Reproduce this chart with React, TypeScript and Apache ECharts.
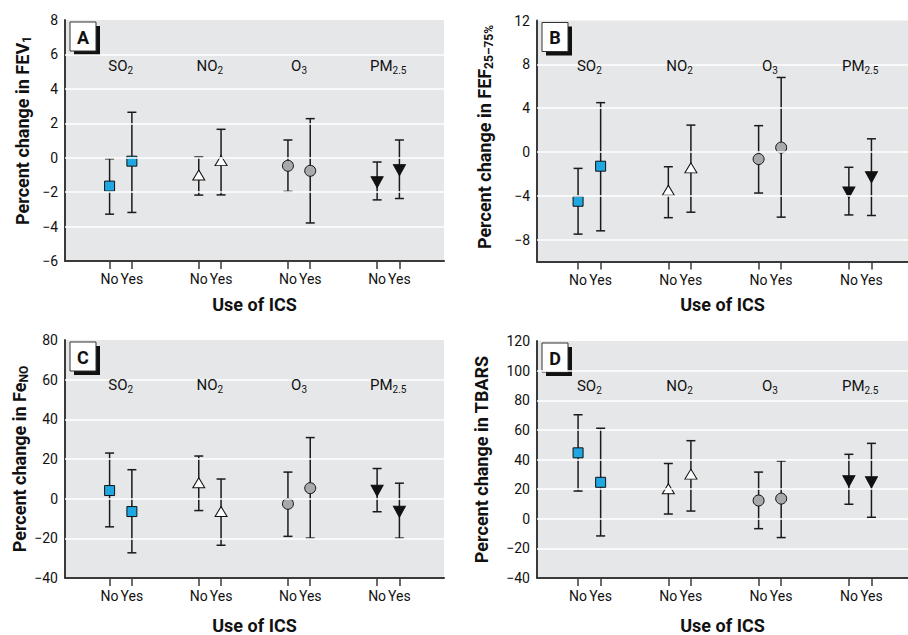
import React, { useEffect, useRef } from "react";
import * as echarts from "echarts";

// ---------- data ----------
const icsUse = ["No", "Yes"];
const pollutantLabels = ["SO{s|2}", "NO{s|2}", "O{s|3}", "PM{s|2.5}"];

// order: SO2 No, SO2 Yes, NO2 No, NO2 Yes, O3 No, O3 Yes, PM2.5 No, PM2.5 Yes
const fev1Est = [-1.65, -0.2, -1.0, -0.17, -0.47, -0.76, -1.42, -0.72];
const fev1Low = [-3.28, -3.18, -2.17, -2.16, -1.96, -3.79, -2.45, -2.37];
const fev1High = [-0.06, 2.64, 0.04, 1.65, 1.03, 2.27, -0.25, 1.03];
const fev1Ticks = [-6, -4, -2, 0, 2, 4, 6, 8];

const fefEst = [-4.5, -1.3, -3.5, -1.45, -0.65, 0.4, -3.7, -2.3];
const fefLow = [-7.5, -7.2, -6.0, -5.5, -3.75, -5.95, -5.75, -5.8];
const fefHigh = [-1.5, 4.5, -1.35, 2.45, 2.4, 6.8, -1.4, 1.2];
const fefTicks = [-8, -4, 0, 4, 8, 12];

const fenoEst = [4.1, -6.5, 8.0, -6.5, -2.6, 5.3, 4.0, -6.6];
const fenoLow = [-14.2, -27.3, -6.0, -23.5, -19.0, -19.9, -6.6, -19.9];
const fenoHigh = [23.0, 14.6, 21.5, 9.9, 13.4, 30.8, 15.2, 7.8];
const fenoTicks = [-40, -20, 0, 20, 40, 60, 80];

const tbarsEst = [44.5, 24.6, 20.2, 30.1, 12.3, 13.6, 25.3, 24.6];
const tbarsLow = [18.7, -11.6, 3.2, 5.2, -6.7, -12.7, 9.8, 1.0];
const tbarsHigh = [70.2, 61.1, 37.3, 52.7, 31.5, 39.0, 43.5, 50.9];
const tbarsTicks = [-40, -20, 0, 20, 40, 60, 80, 100, 120];

// ---------- styles ----------
const FONT = "Roboto, 'Liberation Sans', sans-serif";
const TXT = "#111111";
const markerStyles = [
  { symbol: "rect", size: [10, 10], color: "#1ea7e1", rotate: 0 },
  { symbol: "triangle", size: [12, 10], color: "#ffffff", rotate: 0 },
  { symbol: "circle", size: 11, color: "#a7a9ac", rotate: 0 },
  { symbol: "triangle", size: [12, 11], color: "#111111", rotate: 180 },
];

const panels = [
  {
    tag: "A", yName: "Percent change in FEV{s|1}", est: fev1Est, low: fev1Low, high: fev1High,
    ticks: fev1Ticks, ymin: -6, ymax: 8, xmin: 0, xmax: 17,
    grid: { left: 65, top: 20, width: 379, height: 241 }, nameGap: 32, xNameGap: 34, namePad: [0, 0, 0, 20],
  },
  {
    tag: "B", yName: "Percent change in FEF{s|25–75%}", est: fefEst, low: fefLow, high: fefHigh,
    ticks: fefTicks, ymin: -10, ymax: 12, xmin: 0.18, xmax: 16.62,
    grid: { left: 537, top: 20.5, width: 371, height: 241 }, nameGap: 42, xNameGap: 34, namePad: [0, 0, 0, 8],
  },
  {
    tag: "C", yName: "Percent change in Fe{s|NO}", est: fenoEst, low: fenoLow, high: fenoHigh,
    ticks: fenoTicks, ymin: -40, ymax: 80, xmin: 0, xmax: 17,
    grid: { left: 65, top: 340, width: 379, height: 241.5 }, nameGap: 32, xNameGap: 38, namePad: [0, 0, 0, 0],
  },
  {
    tag: "D", yName: "Percent change in TBARS", est: tbarsEst, low: tbarsLow, high: tbarsHigh,
    ticks: tbarsTicks, ymin: -40, ymax: 120, xmin: 0.18, xmax: 16.62,
    grid: { left: 537, top: 341, width: 371, height: 241.5 }, nameGap: 45, xNameGap: 38, namePad: [0, 0, 0, 0],
  },
];

const xPos = (k: number) => 4 * Math.floor(k / 2) + 2 + (k % 2);
const tickPositions = pollutantLabels.flatMap((_, g) => icsUse.map((__, i) => 4 * g + 2 + i));

function buildOption() {
  const grids: any[] = [];
  const xAxes: any[] = [];
  const yAxes: any[] = [];
  const series: any[] = [];
  const graphics: any[] = [];

  panels.forEach((p, pi) => {
    grids.push({
      ...p.grid,
      show: true,
      backgroundColor: "#e6e7e8",
      borderWidth: 0,
      containLabel: false,
    });
    xAxes.push({
      gridIndex: pi,
      type: "value",
      min: p.xmin,
      max: p.xmax,
      splitLine: { show: false },
      axisLine: { show: true, onZero: false, lineStyle: { color: "#3a3a3a", width: 2 } },
      axisTick: {
        show: true,
        customValues: tickPositions,
        length: 8,
        lineStyle: { color: "#3a3a3a", width: 1.5 },
      },
      axisLabel: {
        customValues: tickPositions,
        formatter: (v: number) => icsUse[(Math.round(v) - 2) % 4],
        fontFamily: FONT,
        fontSize: 14,
        color: TXT,
        margin: 11,
      },
      name: "Use of ICS",
      nameLocation: "middle",
      nameGap: p.xNameGap,
      nameTextStyle: { fontFamily: FONT, fontSize: 18, fontWeight: "bold", color: TXT },
    });
    yAxes.push({
      gridIndex: pi,
      type: "value",
      min: p.ymin,
      max: p.ymax,
      splitLine: { show: false },
      axisLine: { show: true, onZero: false, lineStyle: { color: "#3a3a3a", width: 2 } },
      axisTick: { show: false },
      axisLabel: {
        customValues: p.ticks,
        formatter: (v: number) => (v < 0 ? "\u2212" + Math.abs(v) : String(v)),
        fontFamily: FONT,
        fontSize: 14,
        color: TXT,
        margin: 7,
      },
      name: p.yName,
      nameLocation: "middle",
      nameGap: p.nameGap,
      nameTextStyle: {
        fontFamily: FONT,
        fontSize: 18,
        fontWeight: "bold",
        color: TXT,
        lineHeight: 22,
        padding: p.namePad,
        rich: {
          s: { fontFamily: FONT, fontSize: 12, fontWeight: "bold", color: TXT, verticalAlign: "bottom", lineHeight: 11 },
        },
      },
    });

    // white grid lines
    series.push({
      type: "scatter",
      xAxisIndex: pi,
      yAxisIndex: pi,
      data: [],
      z: 1,
      silent: true,
      markLine: {
        silent: true,
        symbol: "none",
        animation: false,
        label: { show: false },
        lineStyle: { color: "#ffffff", width: 1.5, type: "solid" },
        data: p.ticks.filter((t) => t > p.ymin && t < p.ymax).map((t) => ({ yAxis: t })),
      },
    });

    // error bars
    series.push({
      type: "custom",
      xAxisIndex: pi,
      yAxisIndex: pi,
      z: 3,
      silent: true,
      encode: { x: 0, y: [1, 2] },
      data: p.est.map((_, k) => [xPos(k), p.low[k], p.high[k]]),
      renderItem: (params: any, api: any) => {
        const x = api.value(0);
        const lo = api.coord([x, api.value(1)]);
        const hi = api.coord([x, api.value(2)]);
        const cw = 4.5;
        const st = { stroke: "#1a1a1a", lineWidth: 1.5 };
        return {
          type: "group",
          children: [
            { type: "line", shape: { x1: lo[0], y1: lo[1], x2: hi[0], y2: hi[1] }, style: st },
            { type: "line", shape: { x1: lo[0] - cw, y1: lo[1], x2: lo[0] + cw, y2: lo[1] }, style: st },
            { type: "line", shape: { x1: hi[0] - cw, y1: hi[1], x2: hi[0] + cw, y2: hi[1] }, style: st },
          ],
        };
      },
    });

    // markers
    pollutantLabels.forEach((_, g) => {
      const ms = markerStyles[g];
      series.push({
        type: "scatter",
        xAxisIndex: pi,
        yAxisIndex: pi,
        z: 4,
        symbol: ms.symbol,
        symbolSize: ms.size,
        symbolRotate: ms.rotate,
        itemStyle: { color: ms.color, borderColor: "#111", borderWidth: 1, opacity: 1 },
        data: [0, 1].map((i) => [xPos(2 * g + i), p.est[2 * g + i]]),
      });
    });

    // pollutant labels
    series.push({
      type: "scatter",
      xAxisIndex: pi,
      yAxisIndex: pi,
      z: 5,
      silent: true,
      symbolSize: 0,
      itemStyle: { opacity: 1 },
      data: pollutantLabels.map((lab, g) => ({
        value: [4 * g + 2.5, p.ymax - 0.19 * (p.ymax - p.ymin)],
        name: lab,
      })),
      label: {
        show: true,
        position: "inside",
        formatter: (d: any) => d.name,
        fontFamily: FONT,
        fontSize: 15,
        color: TXT,
        opacity: 1,
        lineHeight: 19,
        rich: {
          s: { fontFamily: FONT, fontSize: 10, color: TXT, verticalAlign: "bottom", lineHeight: 10 },
        },
      },
    });

    // panel tag box
    const bx = p.grid.left + 5;
    const by = p.grid.top + 2;
    graphics.push({
      type: "group",
      x: bx,
      y: by,
      z: 10,
      children: [
        { type: "rect", shape: { x: 4, y: 4, width: 26, height: 29 }, style: { fill: "#111" } },
        { type: "rect", shape: { x: 0, y: 0, width: 26, height: 29 }, style: { fill: "#fff", stroke: "#333", lineWidth: 1 } },
        {
          type: "text",
          x: 13,
          y: 15,
          style: {
            text: p.tag,
            fontFamily: FONT,
            fontSize: 18,
            fontWeight: "bold",
            fill: "#111",
            align: "center",
            verticalAlign: "middle",
          },
        },
      ],
    });
  });

  return {
    animation: false,
    backgroundColor: "#ffffff",
    grid: grids,
    xAxis: xAxes,
    yAxis: yAxes,
    series,
    graphic: graphics,
  };
}

export default function App() {
  const ref = useRef<HTMLDivElement>(null);
  useEffect(() => {
    document.body.style.margin = "0";
    if (!ref.current) return;
    const chart = echarts.init(ref.current, undefined, { renderer: "svg" });
    chart.setOption(buildOption() as any);
    return () => chart.dispose();
  }, []);
  return <div ref={ref} style={{ width: 908, height: 635 }} />;
}
